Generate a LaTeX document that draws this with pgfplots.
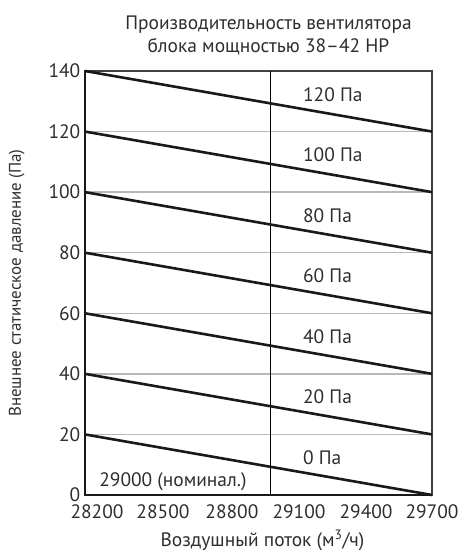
\documentclass[border=0pt]{standalone}
\usepackage{pgfplots}
\pgfplotsset{compat=1.18}
\usepackage{fontspec}
\setmainfont{PT Sans}
\definecolor{txt}{HTML}{2E2E2E}
\begin{document}
\fontsize{19.5}{22}\selectfont
\begin{tikzpicture}
\useasboundingbox (-85bp,-59bp) rectangle (380bp,495bp);
\begin{axis}[
  width=347bp, height=424bp, scale only axis,
  xmin=28200, xmax=29700, ymin=0, ymax=140,
  xtick={28252,28537,28835,29125,29415,29700},
  xticklabels={28200,28500,28800,29100,29400,29700},
  ytick={0,20,40,60,80,100,120,140},
  scaled x ticks=false,
  /pgf/number format/assume math mode=true,
  /pgf/number format/1000 sep={},
  tick style={draw=none},
  ticklabel style={font=\fontsize{19.5}{22}\selectfont, text=txt, inner sep=0.5bp},
  xticklabel style={yshift=-9bp},
  yticklabel style={xshift=-4bp},
  ymajorgrids=true,
  grid style={black!28, line width=1.5bp},
  axis line style={draw=black!75, line width=1.2bp},
  title={Производительность вентилятора\\блока мощностью 38–42 HP},
  title style={align=center, text=txt, font=\fontsize{19.5}{23.5}\selectfont, at={(rel axis cs:0.5,1)}, anchor=south, xshift=10bp, yshift=3bp},
  xlabel={Воздушный поток (м\textsuperscript{3}/ч)},
  xlabel style={text=txt, at={(axis description cs:0.5,-0.107)}, anchor=center, xshift=4bp},
  ylabel={Внешнее статическое давление (Па)},
  ylabel style={text=txt, at={(axis description cs:-0.197,0.5)}, anchor=center, font=\fontsize{17}{20}\selectfont},
  clip=false,
]
% nominal vertical line
\draw[black, line width=0.9bp] (axis cs:29000,0) -- (axis cs:29000,140);
% left and bottom thick axis lines
\draw[black!90, line width=2.8bp] (axis cs:28200,140) -- (axis cs:28200,0) -- (axis cs:29700,0);
% pressure lines
\addplot[black!90, line width=2.6bp] coordinates {(28200,20) (29700,0)};
\addplot[black!90, line width=2.6bp] coordinates {(28200,40) (29700,20)};
\addplot[black!90, line width=2.6bp] coordinates {(28200,60) (29700,40)};
\addplot[black!90, line width=2.6bp] coordinates {(28200,80) (29700,60)};
\addplot[black!90, line width=2.6bp] coordinates {(28200,100) (29700,80)};
\addplot[black!90, line width=2.6bp] coordinates {(28200,120) (29700,100)};
\addplot[black!90, line width=2.6bp] coordinates {(28200,140) (29700,120)};
% labels
\node[anchor=west, text=txt, inner sep=0pt] at (axis cs:29142,12.3) {0 Па};
\node[anchor=west, text=txt, inner sep=0pt] at (axis cs:29142,32.3) {20 Па};
\node[anchor=west, text=txt, inner sep=0pt] at (axis cs:29142,52.3) {40 Па};
\node[anchor=west, text=txt, inner sep=0pt] at (axis cs:29142,72.3) {60 Па};
\node[anchor=west, text=txt, inner sep=0pt] at (axis cs:29142,92.3) {80 Па};
\node[anchor=west, text=txt, inner sep=0pt] at (axis cs:29142,112.3) {100 Па};
\node[anchor=west, text=txt, inner sep=0pt] at (axis cs:29142,132.3) {120 Па};
\node[text=txt, inner sep=0pt] at (axis cs:28580,4.3) {29000 (номинал.)};
\end{axis}
\end{tikzpicture}
\end{document}
